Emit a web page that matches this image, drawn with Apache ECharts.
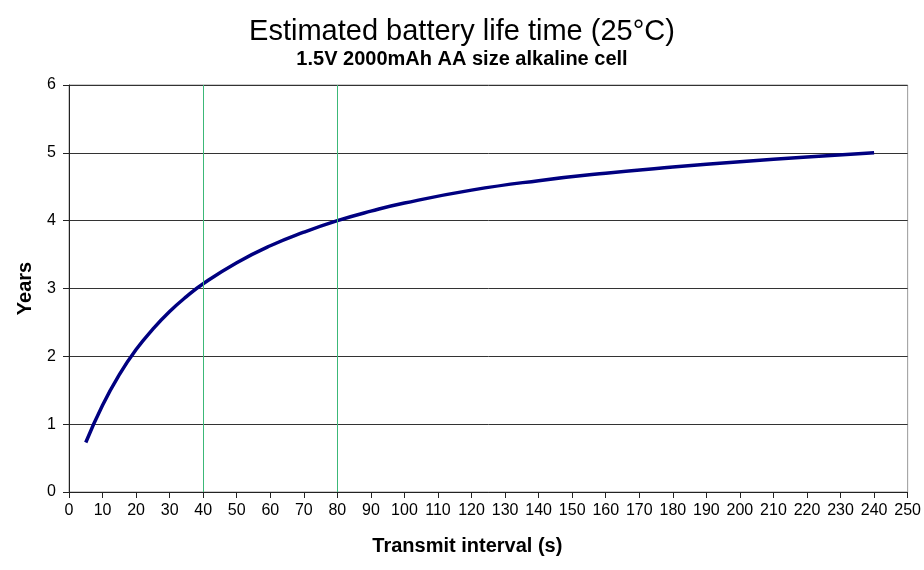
<!DOCTYPE html>
<html>
<head>
<meta charset="utf-8">
<script src="https://cdn.jsdelivr.net/npm/echarts@6/dist/echarts.min.js"></script>
<style>
  html, body { margin: 0; padding: 0; background: #fff; }
</style>
</head>
<body>
<div id="chart" style="width: 924px; height: 570px;"></div>
<script>
// transmit interval (s) and estimated battery life (years)
const intervals = [5, 10, 15, 20, 25, 30, 35, 40, 50, 60, 70, 80, 90, 100, 120, 140, 160, 180, 200, 220, 240];
const years = [0.73, 1.28, 1.73, 2.10, 2.40, 2.66, 2.88, 3.07, 3.38, 3.63, 3.83, 4.00, 4.14, 4.26, 4.45, 4.59, 4.70, 4.79, 4.87, 4.94, 5.00];
const markers = [40, 80]; // vertical reference lines

const chart = echarts.init(document.getElementById('chart'));
const font = 'Arial, "Liberation Sans", sans-serif';

const option = {
  animation: false,
  title: {
    text: 'Estimated battery life time (25°C)',
    subtext: '1.5V 2000mAh AA size alkaline cell',
    left: 'center',
    top: 12,
    itemGap: 3,
    textStyle: { fontFamily: font, fontSize: 29, fontWeight: 'normal', color: '#000' },
    subtextStyle: { fontFamily: font, fontSize: 20, fontWeight: 'bold', color: '#000' }
  },
  grid: {
    left: 69,
    right: 14,
    top: 85,
    bottom: 78,
    show: true,
    borderColor: '#999',
    borderWidth: 1
  },
  xAxis: {
    type: 'value',
    min: 0,
    max: 250,
    interval: 10,
    name: 'Transmit interval (s)',
    nameLocation: 'middle',
    nameGap: 44,
    nameTextStyle: { fontFamily: font, fontSize: 20, fontWeight: 'bold', color: '#000', padding: [0, 42, 0, 0] },
    axisLine: { show: true, lineStyle: { color: '#222' } },
    axisTick: { show: true, length: 6, lineStyle: { color: '#222' } },
    axisLabel: { fontFamily: font, fontSize: 16, color: '#000', margin: 11 },
    splitLine: { show: false }
  },
  yAxis: {
    type: 'value',
    min: 0,
    max: 6,
    interval: 1,
    name: 'Years',
    nameLocation: 'middle',
    nameGap: 34,
    nameTextStyle: { fontFamily: font, fontSize: 20, fontWeight: 'bold', color: '#000' },
    axisLine: { show: true, lineStyle: { color: '#222' } },
    axisTick: { show: true, length: 6, lineStyle: { color: '#222' } },
    axisLabel: { fontFamily: font, fontSize: 16, color: '#000', margin: 13 },
    splitLine: { show: true, lineStyle: { color: '#333', width: 1 } }
  },
  series: [{
    type: 'line',
    data: intervals.map((x, i) => [x, years[i]]),
    smooth: true,
    showSymbol: false,
    lineStyle: { color: '#000080', width: 3.5 },
    markLine: {
      silent: true,
      symbol: ['none', 'none'],
      label: { show: false },
      lineStyle: { color: '#3cb878', type: 'solid', width: 1, opacity: 1 },
      data: markers.map(v => ({ xAxis: v }))
    }
  }]
};

chart.setOption(option);
</script>
</body>
</html>
